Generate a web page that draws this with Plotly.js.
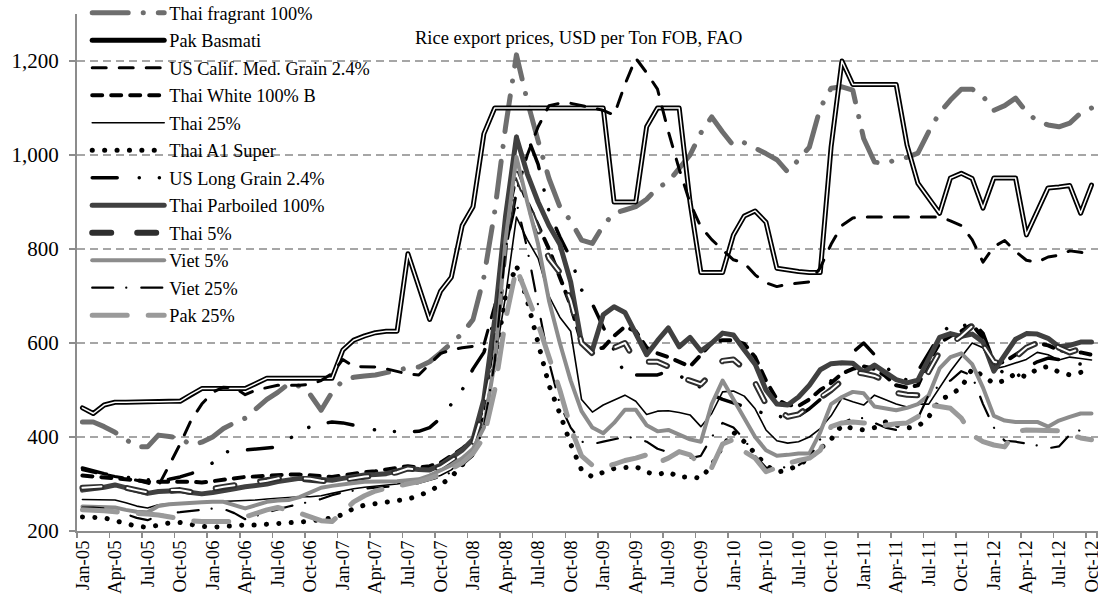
<!DOCTYPE html>
<html><head><meta charset="utf-8">
<script src="https://cdn.plot.ly/plotly-3.0.1.min.js"></script>
<style>
html,body{margin:0;padding:0;background:#fff;}
#chart{width:1098px;height:596px;}
#chart path.js-line{stroke-linecap:round;stroke-linejoin:round;}
</style></head><body><div id="chart"></div>
<script>
// Month categories Jan-05 .. Oct-12
const monthNames = ['Jan','Feb','Mar','Apr','May','Jun','Jul','Aug','Sep','Oct','Nov','Dec'];
const yearLabels = ['05','06','07','08','09','10','11','12'];
const months = [];
yearLabels.forEach(function(yy){ monthNames.forEach(function(mm){ months.push(mm + '-' + yy); }); });
months.length = 94; // up to Oct-12
const tickLabels = months.filter(function(_, i){ return i % 3 === 0; });

const thaiFragrant = [432,432,422,410,395,379,379,404,401,398,383,389,
 400,418,430,440,460,480,495,513,508,490,457,495,
 520,527,530,532,537,543,547,549,560,579,600,620,
 650,740,880,1060,1213,1115,1030,950,890,860,819,812,
 850,876,883,890,906,930,943,972,1000,1047,1081,1049,
 1020,1026,1015,1003,990,964,990,1017,1100,1142,1145,1138,
 1035,985,982,990,995,1004,1050,1090,1117,1140,1140,1125,
 1095,1105,1121,1092,1072,1064,1060,1068,1089,1100];
const pakBasmati = [462,450,468,474,474,475,475,475,476,476,490,503,
 503,503,503,503,514,525,525,525,525,525,525,525,
 585,606,615,622,625,625,790,720,650,710,740,850,
 890,1045,1100,1100,1100,1100,1100,1100,1100,1100,1100,1100,
 1100,900,900,900,1060,1100,1100,1100,900,750,750,750,
 830,870,881,857,759,755,752,750,750,1017,1200,1150,
 1150,1150,1150,1150,1021,940,908,876,951,961,950,887,
 951,951,951,830,880,930,932,935,876,936];
const usCalif = [330,325,320,316,312,308,302,296,340,385,435,470,
 495,506,505,490,500,505,510,510,510,512,520,535,
 565,550,550,549,545,540,534,532,555,578,585,590,
 593,596,680,800,920,1000,1060,1105,1110,1110,1105,1100,
 1095,1085,1150,1206,1175,1140,1050,970,898,847,820,798,
 777,770,745,728,720,725,728,730,760,810,850,866,
 868,868,868,868,868,868,868,868,860,850,820,772,
 805,818,795,776,772,783,787,796,793,790];
const thaiWhite = [318,316,314,313,312,308,305,305,306,307,305,303,
 306,310,313,315,316,318,320,320,320,318,315,315,
 318,322,325,327,330,333,338,335,338,345,360,375,
 395,470,620,850,960,900,850,800,740,680,600,585,
 590,615,635,625,590,578,570,560,550,575,600,606,
 606,598,570,520,480,468,466,480,500,515,535,545,
 550,545,530,510,505,510,560,600,615,625,640,610,
 555,560,575,590,600,595,585,580,580,575];
const thai25 = [267,267,266,266,260,253,249,256,258,259,260,261,
 262,262,263,264,266,268,270,272,273,273,275,280,
 285,290,293,295,297,300,304,306,312,318,330,350,
 375,430,560,700,868,820,780,700,655,625,480,453,
 468,478,489,476,448,455,456,452,447,422,450,496,
 498,487,460,415,392,387,390,400,418,445,483,475,
 468,489,480,470,464,470,470,505,540,570,600,590,
 545,550,557,565,580,575,564,570,567,564];
const thaiA1Super = [230,229,228,222,216,210,208,213,217,218,213,210,
 208,210,212,213,213,214,216,217,219,221,225,228,
 235,248,255,258,260,263,268,275,285,298,315,340,
 370,440,560,700,765,690,600,510,450,385,330,315,
 325,333,335,337,325,320,326,314,316,312,340,380,
 410,390,365,340,325,330,340,355,375,395,425,418,
 415,420,432,425,419,422,443,478,490,505,545,530,
 514,520,535,528,545,550,538,532,537,543];
const usLongGrain = [334,328,322,318,315,310,309,308,310,315,322,330,
 345,368,370,372,374,376,379,395,411,422,428,432,
 430,425,420,415,412,411,411,412,420,440,470,500,
 545,580,650,850,1040,1040,980,880,826,780,713,683,
 635,585,532,532,532,532,540,530,520,505,490,480,
 472,465,455,450,445,440,445,460,480,520,560,580,
 600,575,550,530,521,540,580,617,638,634,645,621,
 560,532,525,547,560,568,565,560,555,550];
const thaiParboiled = [287,289,293,298,292,284,280,284,286,286,282,279,
 282,285,290,294,296,300,305,308,312,311,310,308,
 312,316,319,320,322,328,333,331,330,340,355,372,
 395,480,650,870,1038,960,900,850,810,730,600,585,
 660,677,665,620,575,605,632,592,612,583,600,621,
 617,585,555,500,470,468,485,510,543,556,558,557,
 538,553,536,522,515,521,566,612,620,614,619,602,
 540,575,608,620,619,610,592,595,602,602];
const thai5 = [292,294,295,295,292,287,282,284,287,287,283,281,
 290,294,297,300,303,307,312,313,312,311,307,305,
 308,312,316,318,320,325,333,330,328,335,350,365,
 385,460,580,820,960,900,840,780,750,690,600,578,
 575,590,600,560,560,560,550,528,520,512,535,562,
 565,545,515,470,460,443,448,465,485,500,520,538,
 535,530,520,494,490,489,540,581,598,615,636,596,
 560,555,570,590,600,606,590,580,588,581];
const viet5 = [252,252,252,250,245,241,240,253,257,259,260,261,
 262,262,255,248,255,262,265,266,272,282,292,296,
 300,302,305,305,305,306,308,310,318,328,340,355,
 375,420,560,820,996,900,810,690,600,520,455,420,
 408,430,458,458,425,412,415,405,395,390,470,520,
 480,440,400,372,360,362,365,365,410,470,485,496,
 493,465,460,457,462,470,489,546,570,578,555,505,
 445,435,432,432,432,422,435,443,450,450];
const viet25 = [250,250,248,242,236,228,223,232,238,240,243,246,
 248,247,238,225,232,240,246,252,258,262,268,276,
 282,286,290,292,294,296,298,302,308,315,325,340,
 360,420,560,800,900,800,680,560,470,420,390,385,
 390,395,400,398,390,375,368,360,355,360,400,430,
 420,395,360,335,330,338,340,355,395,420,430,440,
 440,430,420,415,420,440,490,510,520,540,530,470,
 420,392,390,386,382,376,380,405,415,420];
const pak25 = [245,245,243,241,240,238,236,234,230,225,222,220,
 220,218,220,230,238,245,250,245,238,230,222,220,
 240,262,275,285,291,295,300,305,312,320,332,345,
 365,400,500,650,760,700,640,570,500,420,360,340,
 335,342,350,355,362,345,355,369,362,340,335,385,
 395,369,355,326,335,344,350,355,372,422,430,432,
 430,428,425,428,430,443,468,465,461,440,404,390,
 383,379,412,415,415,413,413,405,398,394];

const seriesNames = ['Thai fragrant 100%','Pak Basmati','US Calif. Med. Grain 2.4%','Thai White 100% B','Thai 25%','Thai A1 Super','US Long Grain 2.4%','Thai Parboiled 100%','Thai 5%','Viet 5%','Viet 25%','Pak 25%'];
const seriesValues = [thaiFragrant,pakBasmati,usCalif,thaiWhite,thai25,thaiA1Super,usLongGrain,thaiParboiled,thai5,viet5,viet25,pak25];

// styles (kept apart from data)
const styles = [
 {color:'#6e6e6e', width:5, dash:'36px,15px,0.1px,15px'},
 {color:'#000000', width:5, dash:'solid', inner:{color:'#ffffff', width:1.5, dash:'solid'}},
 {color:'#000000', width:3, dash:'14px,13px'},
 {color:'#000000', width:4, dash:'10px,9px'},
 {color:'#000000', width:1.6, dash:'solid'},
 {color:'#000000', width:5, dash:'0.1px,12.3px'},
 {color:'#000000', width:3.5, dash:'25px,22px,0.1px,20px,0.1px,20px'},
 {color:'#404040', width:5, dash:'solid'},
 {color:'#2e2e2e', width:6, dash:'19px,26px', inner:{color:'#ffffff', width:2, dash:'19px,26px'}},
 {color:'#8c8c8c', width:4, dash:'solid'},
 {color:'#000000', width:2.2, dash:'21px,13px,0.1px,15px'},
 {color:'#9a9a9a', width:5, dash:'35px,21px'}
];

const traces = [];
seriesNames.forEach(function(name, i){
  const st = styles[i];
  traces.push({type:'scatter', mode:'lines', x:months, y:seriesValues[i], name:name,
    legendgroup:'g'+i, line:{color:st.color, width:st.width, dash:st.dash}, hoverinfo:'skip'});
  if (st.inner) {
    traces.push({type:'scatter', mode:'lines', x:months, y:seriesValues[i], name:name,
      legendgroup:'g'+i, showlegend:false, line:{color:st.inner.color, width:st.inner.width, dash:st.inner.dash}, hoverinfo:'skip'});
  }
});

const serif = 'Liberation Serif, Times New Roman, serif';
const layout = {
  width:1098, height:596,
  margin:{l:77, r:0, t:14, b:65, pad:0, autoexpand:false},
  paper_bgcolor:'#ffffff', plot_bgcolor:'#ffffff',
  showlegend:true,
  font:{family:serif, color:'#000'},
  xaxis:{type:'category', categoryorder:'array', categoryarray:months,
    range:[-0.5, 93.6], tickmode:'array', tickvals:tickLabels, ticktext:tickLabels,
    tickson:'boundaries', ticks:'outside', ticklen:5, tickwidth:1.5, tickcolor:'#8c8c8c',
    tickangle:-90, tickfont:{family:serif, size:18.7, color:'#000'},
    showgrid:false, showline:true, linecolor:'#8c8c8c', linewidth:2, zeroline:false, fixedrange:true,
    automargin:false},
  yaxis:{range:[200,1300], tick0:200, dtick:200, tickformat:',d',
    ticks:'outside', ticklen:6, tickwidth:1.5, tickcolor:'#8c8c8c', ticklabelstandoff:6,
    tickfont:{family:serif, size:21, color:'#000'},
    showgrid:true, gridcolor:'#a6a6a6', gridwidth:1.5, griddash:'8px,5px',
    showline:true, linecolor:'#8c8c8c', linewidth:2, zeroline:false, fixedrange:true,
    automargin:false},
  legend:{x:0.010, xanchor:'left', y:1.038, yanchor:'top', bgcolor:'rgba(0,0,0,0)', borderwidth:0,
    font:{family:serif, size:18.3, color:'#000'}, itemwidth:72, traceorder:'grouped', tracegroupgap:0.7,
    maxheight:420, itemclick:false, itemdoubleclick:false},
  shapes:[{type:'rect', layer:'between', xref:'paper', yref:'paper', x0:0.002, x1:0.295, y0:0.393, y1:1,
    fillcolor:'#ffffff', line:{width:0}}],
  annotations:[{text:'Rice export prices, USD per Ton FOB, FAO', xref:'paper', yref:'paper',
    x:0.329, y:0.9536, xanchor:'left', yanchor:'middle', showarrow:false,
    font:{family:serif, size:18.5, color:'#000'}}]
};

Plotly.newPlot('chart', traces, layout, {displayModeBar:false, staticPlot:true});
</script></body></html>
